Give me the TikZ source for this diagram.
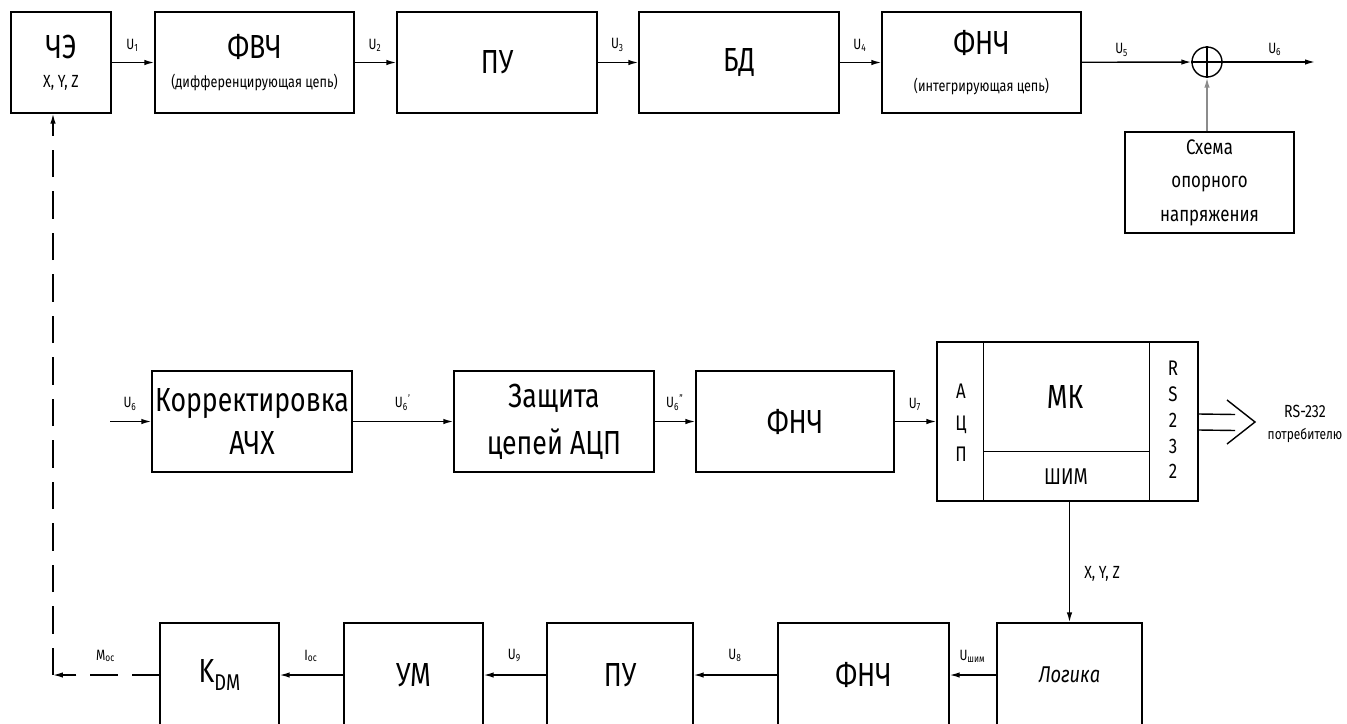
\documentclass[tikz,border=0pt]{standalone}
\usepackage{fontspec}
\setmainfont{Fira Sans}[FakeStretch=0.8]
\usetikzlibrary{arrows.meta,calc}

\tikzset{
  blk/.style 2 args={draw, line width=0.8pt, inner sep=0pt, align=center,
    minimum width=#1*0.02cm, minimum height=#2*0.02cm},
  big/.style={font=\fontsize{19}{17}\selectfont},
  sig/.style={-{Latex[length=2mm,width=1.1mm]}, line width=0.8pt},
  fb/.style={sig, dash pattern=on 0.55cm off 0.28cm},
  lbl/.style={font=\fontsize{8.5}{10}\selectfont, inner sep=0pt},
}
\newcommand{\sgn}[3]{#1\textsubscript{#2}\textsuperscript{#3}}

\begin{document}
\begin{tikzpicture}[x=0.02cm, y=-0.02cm]
  \useasboundingbox (0,0) rectangle (1347,724);
  \clip (0,0) rectangle (1347,724);

  % Верхний ряд
  \node[blk={100}{101}, font=\fontsize{19}{16.7}\selectfont] (che) at (61,62.5)
    {ЧЭ\\{\fontsize{10}{10}\selectfont X, Y, Z}};
  \node[blk={199}{101}, font=\fontsize{19}{16.7}\selectfont] (fvch) at (254.5,62.5)
    {ФВЧ\\{\fontsize{9}{10}\selectfont (дифференцирующая цепь)}};
  \node[blk={200}{101}, big] (pua) at (497,62.5) {ПУ};
  \node[blk={200}{101}, big] (bd) at (739,62.5) {БД};
  \node[blk={199}{101}, font=\fontsize{19}{21.5}\selectfont] (fncha) at (981.5,62.5)
    {ФНЧ\\{\fontsize{9}{10}\selectfont (интегрирующая цепь)}};
  \node[draw, circle, line width=0.8pt, inner sep=0pt, minimum size=0.6cm] (sum) at (1207,62) {};
  \draw[line width=0.8pt] (sum.north) -- (sum.south) (sum.west) -- (sum.east);
  \node[blk={169}{101}, font=\fontsize{12}{19}\selectfont] (shema) at (1209.5,182.5)
    {Схема\\опорного\\напряжения};
  \coordinate (out) at (1315,62);

  \draw[sig] (che) -- (fvch) node[lbl, midway, above=6pt] {\sgn{U}{1}{}};
  \draw[sig] (fvch) -- (pua) node[lbl, midway, above=6pt] {\sgn{U}{2}{}};
  \draw[sig] (pua) -- (bd) node[lbl, midway, above=6pt] {\sgn{U}{3}{}};
  \draw[sig] (bd) -- (fncha) node[lbl, midway, above=6pt] {\sgn{U}{4}{}};
  \draw[sig] (fncha) -- (sum) node[lbl, pos=0.37, above=3pt] {\sgn{U}{5}{}};
  \draw[sig] (sum) -- (out) node[lbl, pos=0.57, above=3pt] {\sgn{U}{6}{}};
  \draw[sig, black!45] (shema.north -| sum) -- (sum.south);

  % Средний ряд
  \coordinate (in) at (110,421.5);
  \node[blk={200}{101}, font=\fontsize{19}{25}\selectfont] (korr) at (252,421.5)
    {Корректировка\\АЧХ};
  \node[blk={200}{101}, font=\fontsize{19}{26.6}\selectfont] (zash) at (554,421.5)
    {Защита\\цепей АЦП};
  \node[blk={198}{101}, big] (fnchb) at (795,421.5) {ФНЧ};
  \node[blk={261}{159}] (mcu) at (1067.5,421.5) {};
  \draw[line width=0.8pt] ($(mcu.north west)+(47,0)$) -- ($(mcu.south west)+(47,0)$)
    ($(mcu.north east)+(-49,0)$) -- ($(mcu.south east)+(-49,0)$)
    ($(mcu.south west)+(47,-50)$) -- ($(mcu.south east)+(-49,-50)$);
  \node[font=\fontsize{12}{18}\selectfont, align=center] (adcT) at (961,423) {А\\Ц\\П};
  \node[big] (mkT) at (1065,397) {МК};
  \node[font=\fontsize{13}{15}\selectfont] (pwmT) at (1066,477) {ШИМ};
  \node[font=\fontsize{12}{14.7}\selectfont, align=center] (rsT) at (1173,420) {R\\S\\2\\3\\2};

  \draw[sig] (in) -- (korr) node[lbl, midway, above=6pt] {\sgn{U}{6}{}};
  \draw[sig] (korr) -- (zash) node[lbl, midway, above=6pt] {\sgn{U}{6}{'}};
  \draw[sig] (zash) -- (fnchb) node[lbl, midway, above=6pt] {\sgn{U}{6}{''}};
  \draw[sig] (fnchb) -- (mcu) node[lbl, midway, above=6pt] {\sgn{U}{7}{}};

  % Интерфейс RS-232
  \coordinate (rsout) at (1255,422);
  \draw[line width=0.8pt] ($(mcu.east)+(0,-7.5)$) -- ($(rsout)+(-20,-7.5)$)
    ($(mcu.east)+(0,8.5)$) -- ($(rsout)+(-20,8.5)$);
  \draw[line width=0.8pt] ($(rsout)+(-28,-22)$) -- (rsout) -- ($(rsout)+(-28,22)$);
  \node[font=\fontsize{10}{12.5}\selectfont, align=center] (rslbl) at (1305,424)
    {RS-232\\{\fontsize{8.5}{10}\selectfont потребителю}};

  % Нижний ряд
  \node[blk={145}{104}, font=\fontsize{13}{15}\selectfont\itshape] (logika) at (1069.5,675) {Логика};
  \node[blk={171}{104}, big] (fnchc) at (863.5,675) {ФНЧ};
  \node[blk={146}{104}, big] (pub) at (620,675) {ПУ};
  \node[blk={139}{104}, big] (um) at (413.5,675) {УМ};
  \node[blk={119}{104}, big] (kdm) at (219.5,675)
    {K\raisebox{-5pt}{\fontsize{13}{13}\selectfont DM}};
  \coordinate (fbc) at (53,675);

  \draw[sig] (logika.north |- mcu.south) -- (logika.north)
    node[lbl, pos=0.6, right=8pt, font=\fontsize{10}{12}\selectfont] {X, Y, Z};
  \draw[sig] (logika) -- (fnchc) node[lbl, midway, above=7pt] {\sgn{U}{шим}{}};
  \draw[sig] (fnchc) -- (pub) node[lbl, midway, above=7pt] {\sgn{U}{8}{}};
  \draw[sig] (pub) -- (um) node[lbl, midway, above=7pt] {\sgn{U}{9}{}};
  \draw[sig] (um) -- (kdm) node[lbl, midway, above=7pt] {\sgn{I}{ос}{}};

  % Обратная связь
  \draw[fb] (kdm) -- (fbc) node[lbl, midway, above=7pt] {\sgn{M}{ос}{}};
  \draw[fb] (fbc) -- (fbc |- che.south);
\end{tikzpicture}
\end{document}
